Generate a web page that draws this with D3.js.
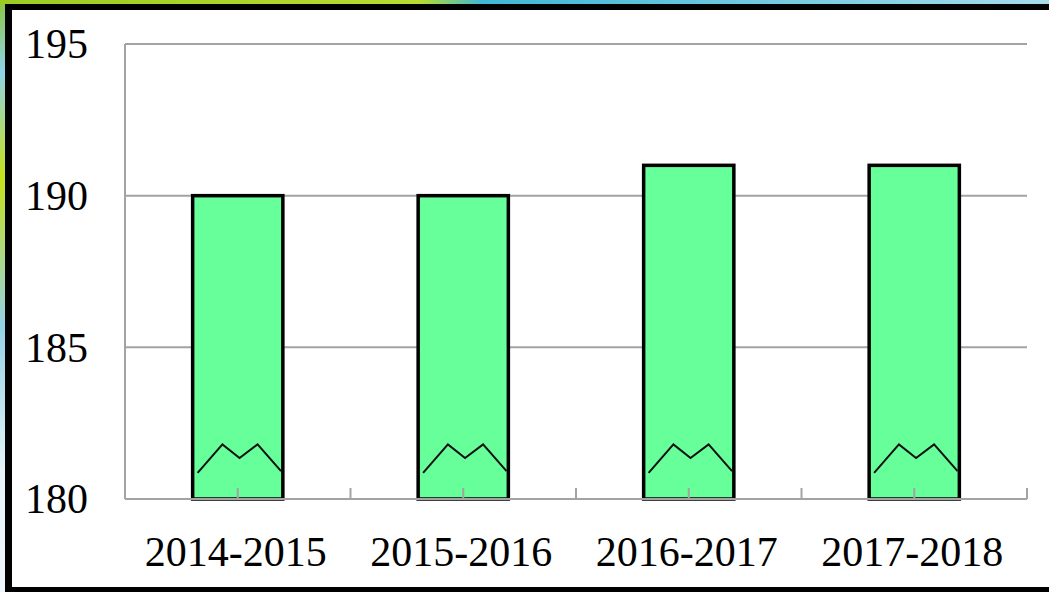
<!DOCTYPE html>
<html>
<head>
<meta charset="utf-8">
<script src="https://cdn.jsdelivr.net/npm/d3@7"></script>
<style>
	body { margin: 0; overflow: hidden; }
	svg { display: block; }
	text { font-family: "Liberation Serif", "DejaVu Serif", serif; fill: #000; }
</style>
</head>
<body>
<div id="chart"></div>
<script>
	// data
	var categories = ["2014-2015", "2015-2016", "2016-2017", "2017-2018"];
	var values = [190, 190, 191, 191];
	var yTicks = [180, 185, 190, 195];
	var yDomain = [180, 195];

	// little broken-axis zigzag drawn inside every bar (x as share of bar width, y in data units)
	var zigX = [0.055, 0.33, 0.52, 0.72, 0.98];
	var zigY = [180.86, 181.8, 181.35, 181.8, 180.92];

	var W = 1049, H = 592;
	var plot = { left: 125, right: 1027, top: 44, bottom: 499 };

	var svg = d3.select("#chart").append("svg")
		.attr("width", W)
		.attr("height", H);

	// decorative slide background peeking out at the edges
	var defs = svg.append("defs");
	var gTop = defs.append("linearGradient").attr("id", "bgTop")
		.attr("x1", "0").attr("y1", "0").attr("x2", "1").attr("y2", "0");
	gTop.append("stop").attr("offset", "0").attr("stop-color", "#9ccc22");
	gTop.append("stop").attr("offset", "0.4").attr("stop-color", "#b8dc30");
	gTop.append("stop").attr("offset", "0.46").attr("stop-color", "#3fb8d6");
	gTop.append("stop").attr("offset", "1").attr("stop-color", "#a6dcec");
	var gLeft = defs.append("linearGradient").attr("id", "bgLeft")
		.attr("x1", "0").attr("y1", "0").attr("x2", "0").attr("y2", "1");
	gLeft.append("stop").attr("offset", "0").attr("stop-color", "#8cc63e");
	gLeft.append("stop").attr("offset", "0.12").attr("stop-color", "#8fd4e6");
	gLeft.append("stop").attr("offset", "0.3").attr("stop-color", "#c6e21a");
	gLeft.append("stop").attr("offset", "0.55").attr("stop-color", "#94d2e6");
	gLeft.append("stop").attr("offset", "0.8").attr("stop-color", "#e6f4f8");
	gLeft.append("stop").attr("offset", "1").attr("stop-color", "#eef6fc");

	svg.append("rect").attr("width", W).attr("height", H).attr("fill", "url(#bgLeft)");
	svg.append("rect").attr("x", 0).attr("y", 0).attr("width", W).attr("height", 5).attr("fill", "url(#bgTop)");

	// black frame and white panel
	svg.append("rect").attr("x", 5).attr("y", 4).attr("width", W - 5).attr("height", H - 4).attr("fill", "#000");
	svg.append("rect").attr("x", 12).attr("y", 10).attr("width", W - 12).attr("height", 577).attr("fill", "#fff");

	// scales
	var x = d3.scaleBand()
		.domain(categories)
		.range([plot.left, plot.right])
		.paddingInner(0.6)
		.paddingOuter(0.3);
	var xCat = d3.scaleBand()
		.domain(categories)
		.range([plot.left, plot.right])
		.padding(0);
	var y = d3.scaleLinear()
		.domain(yDomain)
		.range([plot.bottom, plot.top]);

	// gridlines
	svg.append("g")
		.selectAll("line")
		.data(yTicks)
		.enter().append("line")
		.attr("x1", plot.left)
		.attr("x2", plot.right)
		.attr("y1", function(d) { return y(d); })
		.attr("y2", function(d) { return y(d); })
		.attr("stroke", "#a3a3a3")
		.attr("stroke-width", 2);

	// left axis line
	svg.append("line")
		.attr("x1", plot.left).attr("x2", plot.left)
		.attr("y1", y(yDomain[1])).attr("y2", y(yDomain[0]))
		.attr("stroke", "#a3a3a3")
		.attr("stroke-width", 2);

	// y tick labels
	svg.append("g")
		.selectAll("text")
		.data(yTicks)
		.enter().append("text")
		.attr("x", 88)
		.attr("y", function(d) { return y(d); })
		.attr("dy", "0.34em")
		.attr("text-anchor", "end")
		.style("font-size", "42px")
		.text(function(d) { return d; });

	// bars
	var bars = svg.append("g").selectAll("g")
		.data(categories)
		.enter().append("g");

	bars.append("rect")
		.attr("x", function(d) { return x(d); })
		.attr("y", function(d, i) { return y(values[i]); })
		.attr("width", x.bandwidth())
		.attr("height", function(d, i) { return y(yDomain[0]) - y(values[i]); })
		.attr("fill", "#66ff99")
		.attr("stroke", "#000")
		.attr("stroke-width", 3.5);

	var zig = d3.line();
	bars.append("path")
		.attr("d", function(d) {
			return zig(zigX.map(function(f, k) {
				return [x(d) + f * x.bandwidth(), y(zigY[k])];
			}));
		})
		.attr("fill", "none")
		.attr("stroke", "#111")
		.attr("stroke-width", 2);

	// x axis line and upward ticks (category edges and centres)
	svg.append("line")
		.attr("x1", plot.left).attr("x2", plot.right)
		.attr("y1", plot.bottom).attr("y2", plot.bottom)
		.attr("stroke", "#a3a3a3")
		.attr("stroke-width", 2);

	var tickX = [];
	categories.forEach(function(c) {
		tickX.push(xCat(c) + xCat.bandwidth() / 2);
		tickX.push(xCat(c) + xCat.bandwidth());
	});
	svg.append("g")
		.selectAll("line")
		.data(tickX)
		.enter().append("line")
		.attr("x1", function(d) { return d; })
		.attr("x2", function(d) { return d; })
		.attr("y1", plot.bottom)
		.attr("y2", plot.bottom - 11)
		.attr("stroke", "#a3a3a3")
		.attr("stroke-width", 2);

	// x labels
	svg.append("g")
		.selectAll("text")
		.data(categories)
		.enter().append("text")
		.attr("x", function(d) { return x(d) + x.bandwidth() / 2 - 2; })
		.attr("y", 566)
		.attr("text-anchor", "middle")
		.style("font-size", "42px")
		.text(function(d) { return d; });
</script>
</body>
</html>
